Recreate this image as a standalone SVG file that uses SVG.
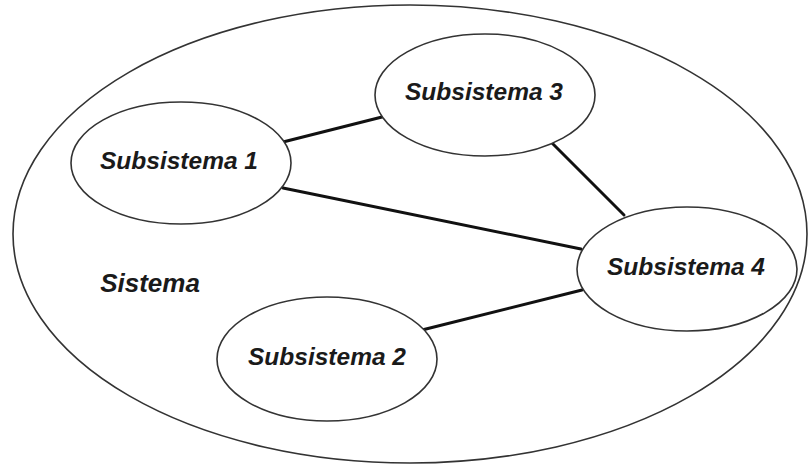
<svg xmlns="http://www.w3.org/2000/svg" width="808" height="466" viewBox="0 0 808 466">
<style>
.sys{fill:none;stroke:#333;stroke-width:1.6}
.node ellipse{fill:#fff;stroke:#333;stroke-width:1.6}
.lbl{font-family:"Liberation Sans",Arial,sans-serif;font-weight:bold;font-style:italic;font-size:24.5px;fill:#1a1a1a;text-anchor:middle}
.conn line{stroke:#111;stroke-width:3;stroke-linecap:round}
</style>
<rect width="808" height="466" fill="#fff"/>
<g id="sistema">
<ellipse class="sys" cx="410" cy="234" rx="397" ry="229"/>
<text class="lbl" x="150" y="292" style="font-size:26px">Sistema</text>
</g>
<g id="connectors" class="conn">
<line x1="283" y1="142" x2="382" y2="117"/>
<line x1="283" y1="188" x2="581" y2="249"/>
<line x1="552" y1="143" x2="624" y2="215"/>
<line x1="422" y1="330" x2="582" y2="290"/>
</g>
<g id="sub1" class="node">
<ellipse cx="181" cy="163" rx="110" ry="61"/>
<text class="lbl" x="179" y="169">Subsistema 1</text>
</g>
<g id="sub3" class="node">
<ellipse cx="485" cy="95" rx="110" ry="61"/>
<text class="lbl" x="484" y="100">Subsistema 3</text>
</g>
<g id="sub4" class="node">
<ellipse cx="687" cy="269" rx="110" ry="62"/>
<text class="lbl" x="686" y="275">Subsistema 4</text>
</g>
<g id="sub2" class="node">
<ellipse cx="327" cy="359" rx="110" ry="62"/>
<text class="lbl" x="327" y="365">Subsistema 2</text>
</g>
</svg>
